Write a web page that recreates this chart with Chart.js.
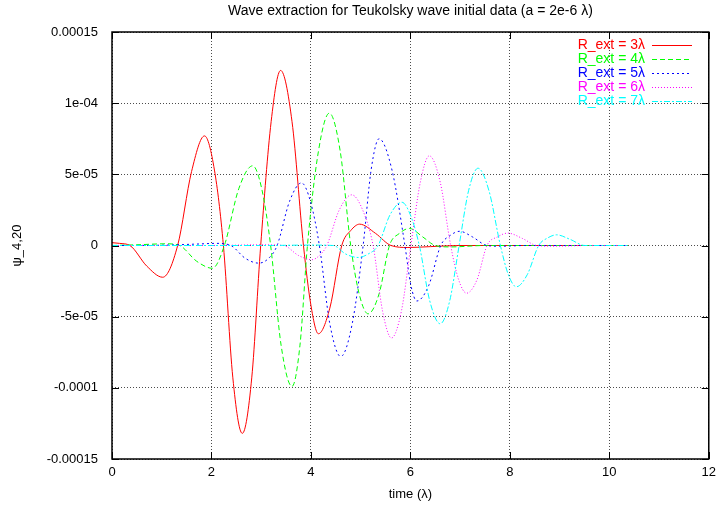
<!DOCTYPE html>
<html>
<head>
<meta charset="utf-8">
<script src="https://cdn.jsdelivr.net/npm/chart.js@4.4.0/dist/chart.umd.min.js"></script>
<style>
body { margin: 0; background: #fff; }
</style>
</head>
<body>
<canvas id="waveChart" width="722" height="508"></canvas>
<script>
// values
var seriesLabels = ['R_ext = 3\u03bb', 'R_ext = 4\u03bb', 'R_ext = 5\u03bb', 'R_ext = 6\u03bb', 'R_ext = 7\u03bb'];

var t3 = [0, 0.15, 0.36, 0.7, 1.02, 1.32, 1.6, 1.86, 2.06, 2.24, 2.43, 2.62, 2.81, 2.99, 3.2, 3.39, 3.62, 3.85, 4.0, 4.15, 4.38, 4.62, 4.8, 4.98, 5.3, 5.61, 5.95, 6.4, 7.0, 8.0, 9.0, 10.0, 10.38];
var psi3 = [0.2e-5, 0.15e-5, 0, -1.45e-5, -2.23e-5, 0, 5.2e-5, 7.7e-5, 5.3e-5, 0, -9.3e-5, -13.2e-5, -9.3e-5, 0, 8.7e-5, 12.3e-5, 8.7e-5, 0, -4.2e-5, -6.2e-5, -4.4e-5, 0, 1.05e-5, 1.5e-5, 0.85e-5, 0, -0.14e-5, -0.08e-5, 0, 0, 0, 0, 0];

var t4 = [0, 0.5, 1.1, 1.36, 1.7, 2.02, 2.26, 2.55, 2.83, 3.01, 3.19, 3.4, 3.62, 3.78, 3.93, 4.15, 4.37, 4.59, 4.8, 4.97, 5.15, 5.37, 5.58, 5.78, 5.98, 6.25, 6.5, 6.8, 7.5, 8.5, 9.5, 10.38];
var psi4 = [0, 0.05e-5, 0.12e-5, 0, -1.1e-5, -1.6e-5, 0, 4.0e-5, 5.6e-5, 4.0e-5, 0, -7.0e-5, -9.9e-5, -7.0e-5, 0, 6.6e-5, 9.3e-5, 6.6e-5, 0, -3.4e-5, -4.8e-5, -3.4e-5, 0, 0.85e-5, 1.2e-5, 0.6e-5, 0, -0.1e-5, 0, 0, 0, 0];

var t5 = [0, 1.0, 1.7, 2.1, 2.39, 2.68, 2.95, 3.15, 3.32, 3.57, 3.81, 3.99, 4.17, 4.38, 4.6, 4.83, 5.05, 5.21, 5.37, 5.63, 5.89, 6.01, 6.13, 6.37, 6.61, 6.8, 6.99, 7.25, 7.54, 7.8, 8.3, 9.0, 10.38];
var psi5 = [0, 0.02e-5, 0.1e-5, 0.15e-5, 0, -0.9e-5, -1.24e-5, -0.9e-5, 0, 3.1e-5, 4.4e-5, 3.1e-5, 0, -5.5e-5, -7.8e-5, -5.5e-5, 0, 5.3e-5, 7.5e-5, 5.3e-5, 0, -2.8e-5, -3.9e-5, -2.8e-5, 0, 0.7e-5, 1.0e-5, 0.6e-5, 0, -0.05e-5, 0, 0, 0];

var t6 = [0, 2.0, 3.0, 3.45, 3.75, 4.02, 4.17, 4.32, 4.57, 4.82, 5.04, 5.25, 5.44, 5.62, 5.82, 6.01, 6.2, 6.38, 6.6, 6.81, 6.97, 7.13, 7.34, 7.54, 7.75, 7.96, 8.25, 8.54, 8.9, 9.5, 10.38];
var psi6 = [0, 0, 0.05e-5, 0, -0.7e-5, -1.0e-5, -0.7e-5, 0, 2.5e-5, 3.56e-5, 2.5e-5, 0, -4.6e-5, -6.5e-5, -4.6e-5, 0, 4.45e-5, 6.3e-5, 4.45e-5, 0, -2.4e-5, -3.35e-5, -2.4e-5, 0, 0.6e-5, 0.87e-5, 0.5e-5, 0, -0.05e-5, 0, 0];

var t7 = [0, 2.0, 3.0, 4.0, 4.45, 4.7, 4.95, 5.15, 5.35, 5.59, 5.83, 6.0, 6.18, 6.39, 6.6, 6.79, 6.98, 7.17, 7.36, 7.58, 7.81, 7.97, 8.13, 8.35, 8.58, 8.76, 8.94, 9.2, 9.51, 9.9, 10.38];
var psi7 = [0, 0, 0, 0.03e-5, 0, -0.6e-5, -0.84e-5, -0.6e-5, 0, 2.15e-5, 3.04e-5, 2.15e-5, 0, -3.9e-5, -5.5e-5, -3.9e-5, 0, 3.85e-5, 5.43e-5, 3.85e-5, 0, -2.05e-5, -2.9e-5, -2.05e-5, 0, 0.53e-5, 0.75e-5, 0.45e-5, 0, 0, 0];

var yTickValues = [-0.00015, -0.0001, -0.00005, 0, 0.00005, 0.0001, 0.00015];
var yTickLabels = ['-0.00015', '-0.0001', '-5e-05', '0', '5e-05', '1e-04', '0.00015'];

// styles (gnuplot defaults)
var lineColors = ['#ff0000', '#00ff00', '#0000ff', '#ff00ff', '#00ffff'];
var lineDashes = [[], [5, 3], [2, 3], [1, 2], [6, 2, 2, 2]];
var FONT = "'Liberation Sans', Arial, sans-serif";

function toPoints(xs, ys) {
    return xs.map(function(x, i) { return {x: x, y: ys[i]}; });
}

var allT = [t3, t4, t5, t6, t7];
var allPsi = [psi3, psi4, psi5, psi6, psi7];

var datasets = allT.map(function(t, i) {
    return {
        label: seriesLabels[i],
        data: toPoints(t, allPsi[i]),
        borderColor: lineColors[i],
        borderDash: lineDashes[i],
        borderWidth: 1,
        pointRadius: 0,
        fill: false,
        cubicInterpolationMode: 'monotone',
        order: 4 - i
    };
});

// frame, inner ticks, title and key drawn gnuplot-style
var gnuplotBits = {
    id: 'gnuplotBits',
    afterDatasetsDraw: function(chart) {
        var ctx = chart.ctx, a = chart.chartArea;
        var xs = chart.scales.x, ys = chart.scales.y;
        ctx.save();
        ctx.strokeStyle = '#000';
        ctx.lineWidth = 1;
        ctx.setLineDash([]);
        ctx.beginPath();
        xs.ticks.forEach(function(t) {
            var px = Math.round(xs.getPixelForValue(t.value)) + 0.5;
            ctx.moveTo(px, a.bottom); ctx.lineTo(px, a.bottom - 7);
            ctx.moveTo(px, a.top); ctx.lineTo(px, a.top + 7);
        });
        ys.ticks.forEach(function(t) {
            var py = Math.round(ys.getPixelForValue(t.value)) + 0.5;
            ctx.moveTo(a.left, py); ctx.lineTo(a.left + 7, py);
            ctx.moveTo(a.right, py); ctx.lineTo(a.right - 7, py);
        });
        ctx.stroke();
        ctx.lineWidth = 1.5;
        ctx.strokeRect(a.left, a.top, a.right - a.left, a.bottom - a.top);

        // title
        ctx.fillStyle = '#000';
        ctx.font = '14px ' + FONT;
        ctx.textAlign = 'center';
        ctx.textBaseline = 'middle';
        ctx.fillText('Wave extraction for Teukolsky wave initial data (a = 2e-6 \u03bb)', (a.left + a.right) / 2, 11);

        // key
        ctx.font = '14px ' + FONT;
        ctx.textAlign = 'right';
        ctx.lineWidth = 1;
        seriesLabels.forEach(function(lbl, i) {
            var y = 45 + i * 14;
            ctx.fillStyle = lineColors[i];
            ctx.fillText(lbl, 645, y);
            ctx.strokeStyle = lineColors[i];
            ctx.setLineDash(lineDashes[i]);
            ctx.beginPath();
            ctx.moveTo(652, y + 0.5);
            ctx.lineTo(692, y + 0.5);
            ctx.stroke();
        });
        ctx.restore();
    }
};

var ctx = document.getElementById('waveChart').getContext('2d');
var waveChart = new Chart(ctx, {
    type: 'line',
    data: { datasets: datasets },
    options: {
        responsive: false,
        animation: false,
        devicePixelRatio: 1,
        layout: {
            padding: { top: 32, right: 9, left: 0, bottom: 0 }
        },
        scales: {
            x: {
                type: 'linear',
                min: 0,
                max: 12,
                ticks: {
                    stepSize: 2,
                    color: '#000',
                    padding: 6,
                    font: { family: FONT, size: 13 }
                },
                grid: {
                    color: 'rgba(0,0,0,0.7)',
                    lineWidth: 1,
                    drawTicks: false
                },
                border: { display: false, dash: [1, 2] },
                title: {
                    display: true,
                    text: 'time (\u03bb)',
                    color: '#000',
                    font: { family: FONT, size: 13 },
                    padding: { top: 0, bottom: 6 }
                },
                afterFit: function(scale) { scale.height = 49; }
            },
            y: {
                type: 'linear',
                min: -0.00015,
                max: 0.00015,
                afterBuildTicks: function(scale) {
                    scale.ticks = yTickValues.map(function(v) { return {value: v}; });
                },
                ticks: {
                    color: '#000',
                    padding: 14,
                    font: { family: FONT, size: 13 },
                    callback: function(value, index) { return yTickLabels[index]; }
                },
                grid: {
                    color: 'rgba(0,0,0,0.7)',
                    lineWidth: 1,
                    drawTicks: false
                },
                border: { display: false, dash: [1, 2] },
                title: {
                    display: true,
                    text: '\u03c8_4,20',
                    color: '#000',
                    font: { family: FONT, size: 13 },
                    padding: { top: 10, bottom: 0 }
                },
                afterFit: function(scale) { scale.width = 112; }
            }
        },
        plugins: {
            legend: { display: false },
            title: { display: false },
            tooltip: { enabled: false }
        }
    },
    plugins: [gnuplotBits]
});
</script>
</body>
</html>
